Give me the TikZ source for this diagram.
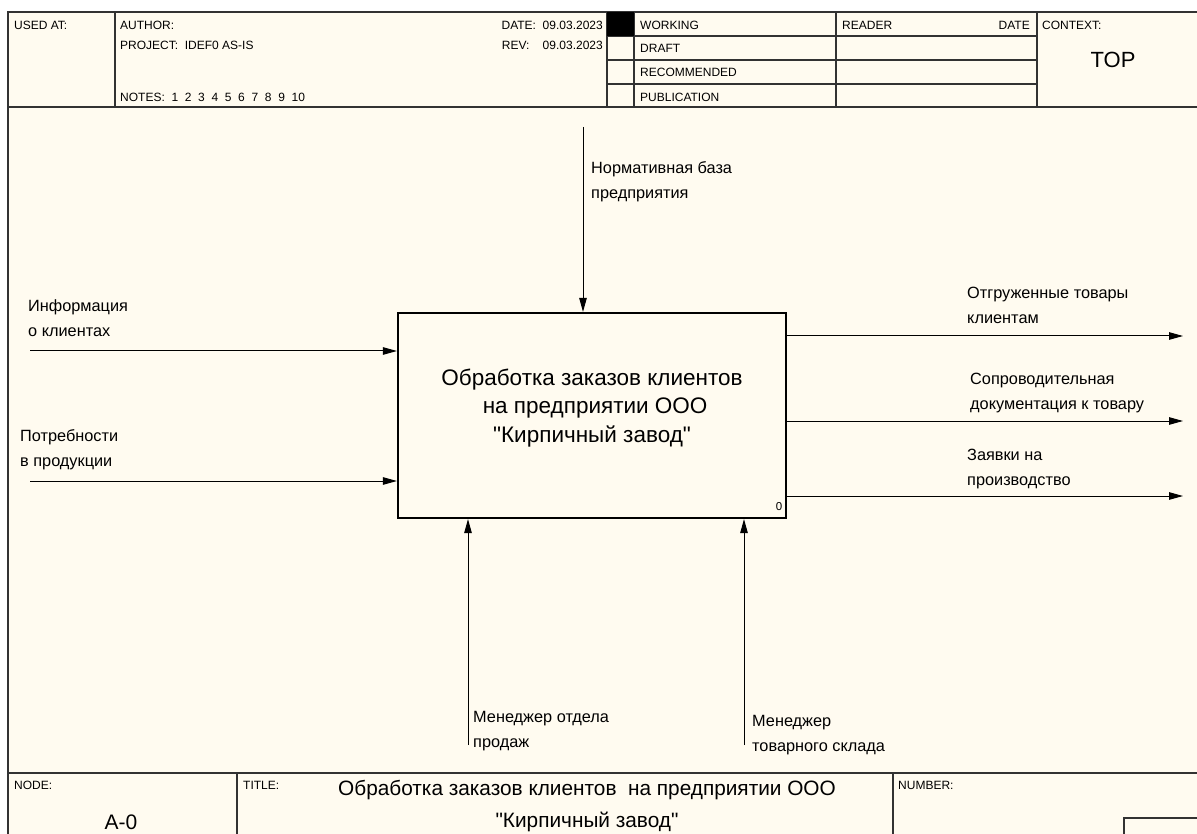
\documentclass[tikz,border=0pt]{standalone}
\usepackage{fontspec}
\setmainfont{Liberation Sans}
\usetikzlibrary{arrows.meta,positioning}
\definecolor{paper}{RGB}{255,251,240}
\definecolor{rulegray}{RGB}{50,50,50}
\tikzset{
	frameline/.style={draw=rulegray,line width=1.2pt},
	hdr/.style={font=\fontsize{12}{14}\selectfont,inner sep=0pt,anchor=west},
	lbl/.style={font=\fontsize{16.3}{25}\selectfont,align=left,inner sep=0pt,anchor=north west},
	flow/.style={draw=black,line width=1pt,-{Triangle[length=14pt,width=7.5pt]}},
	procbox/.style={draw=black,line width=2.2pt,fill=paper,minimum width=388pt,minimum height=205pt,inner sep=0pt},
}

\begin{document}
\begin{tikzpicture}[x=1pt,y=-1pt]
	\useasboundingbox (0,0) rectangle (1197,834);
	\fill[white] (0,0) rectangle (1197,834);
	\fill[paper] (8,12) rectangle (1197,834);
	%FRAME
	\draw[frameline] (1210,12) -- (8,12) -- (8,850);
	\draw[frameline] (8,107) -- (1210,107);
	\draw[frameline] (8,773) -- (1210,773);
	\draw[frameline] (115,12) -- (115,107);
	\draw[frameline] (607,12) -- (607,107);
	\draw[frameline] (634,12) -- (634,107);
	\draw[frameline] (836,12) -- (836,107);
	\draw[frameline] (1037,12) -- (1037,107);
	\foreach \y in {36,60,84}
		\draw[frameline] (607,\y) -- (1037,\y);
	\fill[black] (607,12) rectangle (634,36);
	\draw[frameline] (237,773) -- (237,850);
	\draw[frameline] (893,773) -- (893,850);
	\draw[frameline] (1210,818) -- (1124,818) -- (1124,850);
	%HEADER TEXT
	\node[hdr] (usedat) at (14,25) {USED AT:};
	\node[hdr] (author) at (120,25) {AUTHOR:};
	\node[hdr] (project) at (120,45) {PROJECT:\ \ IDEF0 AS-IS};
	\node[hdr] (notes) at (120,97) {NOTES:\ \ 1\ \ 2\ \ 3\ \ 4\ \ 5\ \ 6\ \ 7\ \ 8\ \ 9\ \ 10};
	\node[hdr,anchor=east] (date) at (603,25) {DATE:\ \ 09.03.2023};
	\node[hdr,anchor=east] (rev) at (603,45) {REV:\ \ \ \ 09.03.2023};
	\node[hdr] (working) at (640,25) {WORKING};
	\node[hdr] (draft) at (640,48) {DRAFT};
	\node[hdr] (recom) at (640,72) {RECOMMENDED};
	\node[hdr] (public) at (640,97) {PUBLICATION};
	\node[hdr] (reader) at (842,25) {READER};
	\node[hdr,anchor=east] (rdate) at (1030,25) {DATE};
	\node[hdr] (context) at (1042,25) {CONTEXT:};
	\node[font=\fontsize{22}{26}\selectfont,inner sep=0pt] (top) at (1113,60) {TOP};
	%FOOTER TEXT
	\node[hdr] (nodelbl) at (14,785) {NODE:};
	\node[hdr] (titlelbl) at (243,785) {TITLE:};
	\node[hdr] (numberlbl) at (898,785) {NUMBER:};
	\node[font=\fontsize{21}{24}\selectfont,inner sep=0pt] (nodenum) at (121,822) {A-0};
	\node[font=\fontsize{20.8}{32}\selectfont,align=center,inner sep=0pt] (title) at (587,806)
		{Обработка заказов клиентов\ \ на предприятии ООО\\\textquotedbl Кирпичный завод\textquotedbl};
	%ACTIVITY
	\node[procbox] (proc) at (592,415.5) {};
	\node[font=\fontsize{22.5}{28.5}\selectfont,align=center,inner sep=0pt] (proctext) at (592,408)
		{Обработка заказов клиентов\\\ на предприятии ООО\\\textquotedbl Кирпичный завод\textquotedbl};
	\node[font=\fontsize{11.5}{13}\selectfont,inner sep=0pt] (procnum) at (779,507) {0};
	%ENDS OF ARROWS
	\coordinate (in1) at (30,351);
	\coordinate (in2) at (30,481);
	\coordinate (ctrl) at (583,127);
	\coordinate (out1) at (1183,336);
	\coordinate (out2) at (1183,421);
	\coordinate (out3) at (1183,496);
	\coordinate (mech1) at (468,745);
	\coordinate (mech2) at (744,745);
	%ARROWS
	\draw[flow] (in1) -- (in1 -| proc.west);
	\draw[flow] (in2) -- (in2 -| proc.west);
	\draw[flow] (ctrl) -- (ctrl |- proc.north);
	\draw[flow] (out1 -| proc.east) -- (out1);
	\draw[flow] (out2 -| proc.east) -- (out2);
	\draw[flow] (out3 -| proc.east) -- (out3);
	\draw[flow] (mech1) -- (mech1 |- proc.south);
	\draw[flow] (mech2) -- (mech2 |- proc.south);
	%LABELS
	\node[lbl] (inf) at (28,299) {Информация\\о клиентах};
	\node[lbl] (potr) at (20,429) {Потребности\\в продукции};
	\node[lbl] (norm) at (591,161) {Нормативная база\\предприятия};
	\node[lbl] (otgr) at (967,287) {Отгруженные товары\\клиентам};
	\node[lbl] (sopr) at (970,373) {Сопроводительная\\документация к товару};
	\node[lbl] (zayav) at (967,449) {Заявки на\\производство};
	\node[lbl] (men1) at (473,711) {Менеджер отдела\\продаж};
	\node[lbl] (men2) at (752,715) {Менеджер\\товарного склада};
\end{tikzpicture}
\end{document}
